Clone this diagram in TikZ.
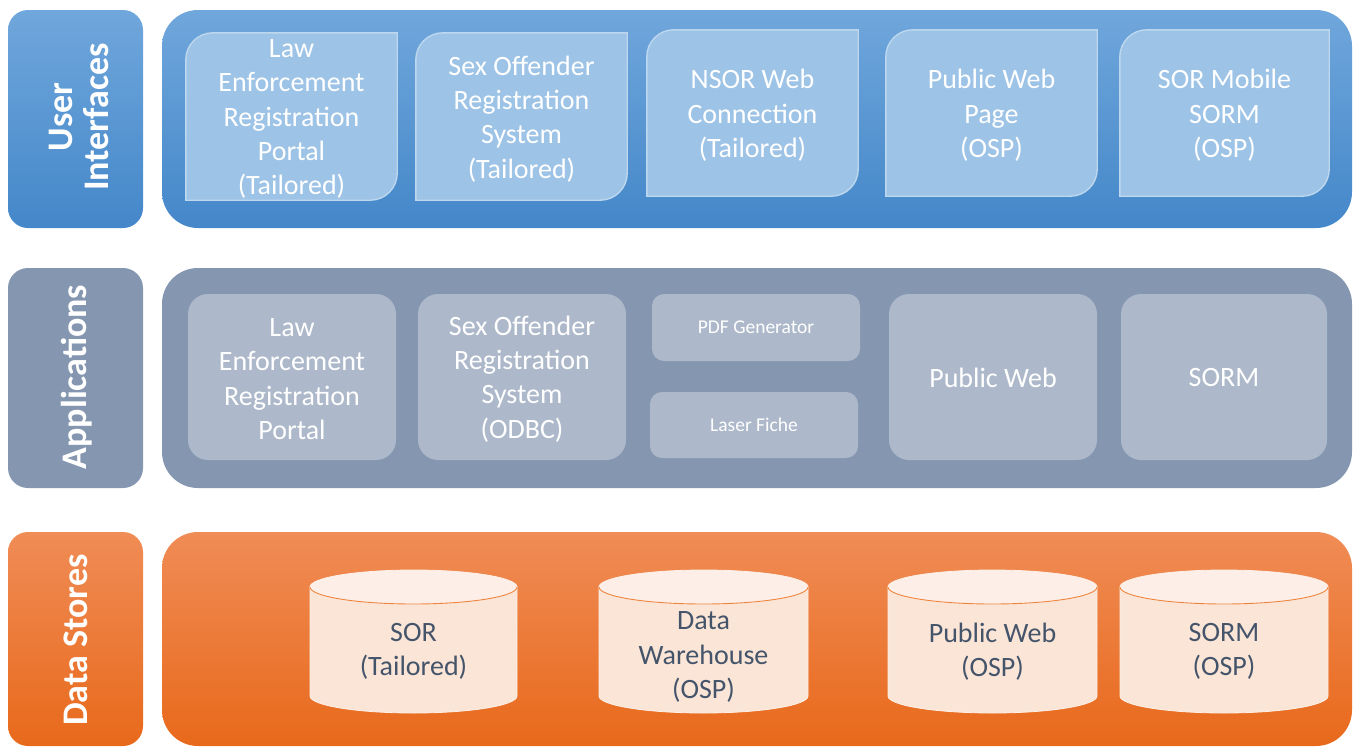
\documentclass[tikz,border=0pt]{standalone}
\usepackage{fontspec}
\setmainfont{Carlito}
\usetikzlibrary{calc}

% tier colours
\definecolor{uiTop}{HTML}{70A7DC}
\definecolor{uiMid}{HTML}{559BDB}
\definecolor{uiBot}{HTML}{4487C9}
\definecolor{uiBox}{HTML}{9DC3E6}
\definecolor{uiEdge}{HTML}{BDD7EE}
\definecolor{apPanel}{HTML}{8496B0}
\definecolor{apBox}{HTML}{ADB9CA}
\definecolor{dsTop}{HTML}{F08C56}
\definecolor{dsMid}{HTML}{F47B28}
\definecolor{dsBot}{HTML}{E8691B}
\definecolor{cylBody}{HTML}{FBE5D6}
\definecolor{cylTop}{HTML}{FDEFE7}
\definecolor{cylRim}{HTML}{EF843E}
\definecolor{cylText}{HTML}{44546A}

\pgfdeclarelayer{panels}
\pgfdeclarelayer{boxes}
\pgfsetlayers{panels,boxes,main}

\tikzset{
  tierlabel/.style={rounded corners=20pt, minimum width=135pt, inner sep=0pt},
  tiertext/.style={rotate=90, text=white, align=center,
    font=\fontsize{36}{36}\selectfont\bfseries},
  panel/.style={rounded corners=36pt, minimum width=1190pt, inner sep=0pt},
  uishade/.style={top color=uiTop, middle color=uiMid, bottom color=uiBot},
  dsshade/.style={top color=dsTop, middle color=dsMid, bottom color=dsBot},
  boxtext/.style={text=white, align=center, font=\fontsize{28}{34.3}\selectfont},
  uibox/.style={minimum width=211pt, minimum height=167pt, inner sep=0pt},
  appbox/.style={rounded corners=20pt, fill=apBox, minimum width=208pt,
    minimum height=166pt, inner sep=0pt},
  smallbox/.style={rounded corners=12pt, fill=apBox, minimum width=208pt,
    minimum height=66pt, inner sep=0pt, text=white,
    font=\fontsize{19.5}{23}\selectfont},
  cyltext/.style={text=cylText, align=center, font=\fontsize{28}{34.3}\selectfont},
}

% user-interface card: rounded top-left and bottom-right corners
\newcommand\uicard[1]{%
  \filldraw[fill=uiBox, draw=uiEdge, line width=1.4pt]
    (#1.south west) -- ([yshift=-27pt]#1.north west)
    arc[start angle=180, end angle=90, radius=27pt]
    -- (#1.north east) -- ([yshift=27pt]#1.south east)
    arc[start angle=0, end angle=-90, radius=27pt] -- cycle;}

% data-store drum between x = #1 and x = #2
\newcommand\drum[2]{%
  \pgfmathsetmacro\drumcx{(#1+#2)/2}%
  \pgfmathsetmacro\drumrx{(#2-#1)/2}%
  \filldraw[fill=cylBody, draw=cylTop, line width=0.8pt]
    (#1,-587) -- (#1,-696)
    arc[start angle=180, end angle=360, x radius=\drumrx, y radius=17]
    -- (#2,-587) -- cycle;
  \filldraw[fill=cylTop, draw=cylTop, line width=0.8pt]
    (\drumcx,-587) ellipse [x radius=\drumrx, y radius=17];
  \draw[cylRim, line width=0.9pt]
    (#1,-587) arc[start angle=180, end angle=360, x radius=\drumrx, y radius=17];}

\begin{document}
\begin{tikzpicture}[x=1pt, y=1pt]
\useasboundingbox (0,0) rectangle (1354,-747);

% ---------- tier labels and panels ----------
\begin{pgfonlayer}{panels}
  \node[tierlabel, uishade, minimum height=218pt] (uiLbl) at (75.5,-119) {};
  \node[panel, uishade, minimum height=218pt] (uiPanel) at (757,-119) {};
  \node[tierlabel, fill=apPanel, minimum height=220pt] (apLbl) at (75.5,-378) {};
  \node[panel, fill=apPanel, minimum height=220pt] (apPanel) at (757,-378) {};
  \node[tierlabel, dsshade, minimum height=214pt] (dsLbl) at (75.5,-639) {};
  \node[panel, dsshade, minimum height=214pt] (dsPanel) at (757,-639) {};
\end{pgfonlayer}

\node[tiertext] (uiLblText) at (79,-117) {User\\Interfaces};
\node[tiertext] (apLblText) at (77,-377) {Applications};
\node[tiertext] (dsLblText) at (76,-640) {Data Stores};

% ---------- user interfaces ----------
\node[uibox] (ui1) at (291.5,-116.5) {};
\node[uibox] (ui2) at (521.5,-116.5) {};
\node[uibox, minimum height=166pt] (ui3) at (752.5,-113) {};
\node[uibox, minimum height=166pt] (ui4) at (991.5,-113) {};
\node[uibox, minimum height=166pt, minimum width=209pt] (ui5) at (1224.5,-113) {};
\begin{pgfonlayer}{boxes}
  \uicard{ui1}\uicard{ui2}\uicard{ui3}\uicard{ui4}\uicard{ui5}
\end{pgfonlayer}
\node[boxtext] (ui1t) at ([yshift=-2.5pt]ui1.center) {Law\\Enforcement\\Registration\\Portal\\(Tailored)};
\node[boxtext] (ui2t) at ([yshift=-2.5pt]ui2.center) {Sex Offender\\Registration\\System\\(Tailored)};
\node[boxtext] (ui3t) at ([yshift=-2.5pt]ui3.center) {NSOR Web\\Connection\\(Tailored)};
\node[boxtext] (ui4t) at ([yshift=-2.5pt]ui4.center) {Public Web\\Page\\(OSP)};
\node[boxtext] (ui5t) at ([yshift=-2.5pt]ui5.center) {SOR Mobile\\SORM\\(OSP)};

% ---------- applications ----------
\node[appbox] (ap1) at (292,-377) {};
\node[appbox] (ap2) at (522,-377) {};
\node[smallbox, minimum height=67pt] (ap3) at (756,-327.5) {PDF Generator};
\node[smallbox] (ap4) at (754,-425) {Laser Fiche};
\node[appbox] (ap5) at (993,-377) {};
\node[appbox, minimum width=206pt] (ap6) at (1224,-377) {};
\node[boxtext] (ap1t) at ([yshift=-2pt]ap1.center) {Law\\Enforcement\\Registration\\Portal};
\node[boxtext] (ap2t) at ([yshift=-2pt]ap2.center) {Sex Offender\\Registration\\System\\(ODBC)};
\node[boxtext] (ap5t) at ([yshift=-1pt]ap5.center) {Public Web};
\node[boxtext] (ap6t) at ([yshift=-1pt]ap6.center) {SORM};

% ---------- data stores ----------
\begin{pgfonlayer}{boxes}
  \drum{310}{517}
  \drum{599}{808}
  \drum{888}{1097}
  \drum{1120}{1328}
\end{pgfonlayer}
\node[cyltext] (ds1) at (413.5,-651.5) {SOR\\(Tailored)};
\node[cyltext] (ds2) at (703.5,-657) {Data\\Warehouse\\(OSP)};
\node[cyltext] (ds3) at (992.5,-651.5) {Public Web\\(OSP)};
\node[cyltext] (ds4) at (1224,-651.5) {SORM\\(OSP)};
\end{tikzpicture}
\end{document}
